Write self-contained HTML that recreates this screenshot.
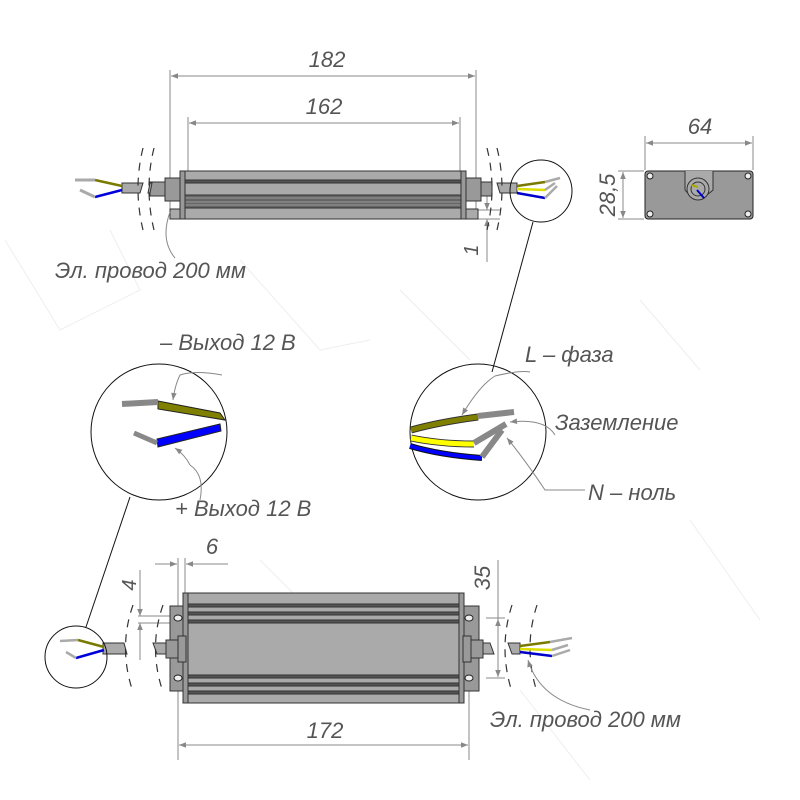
<!DOCTYPE html>
<html><head><meta charset="utf-8"><style>
html,body{margin:0;padding:0;background:#fff;}
svg{display:block;}
text{font-family:"Liberation Sans",sans-serif;font-style:italic;fill:#555;}
</style></head><body>
<svg width="800" height="800" viewBox="0 0 800 800" xmlns="http://www.w3.org/2000/svg">
<defs>
<marker id="a" viewBox="0 0 10 10" refX="10" refY="5" markerWidth="14" markerHeight="7" orient="auto-start-reverse" markerUnits="userSpaceOnUse"><path d="M0,1 L10,5 L0,9z" fill="#888"/></marker>
</defs>
<!-- watermark -->
<g stroke="#eee" stroke-width="1" fill="none">
<path d="M5,240 L60,330 L140,290 L110,230"/><path d="M240,260 L320,350 L370,340"/><path d="M400,290 L470,360"/><path d="M640,300 L700,370"/><path d="M260,560 L330,630 L400,600"/><path d="M520,690 L590,780"/><path d="M690,520 L760,620"/>
</g>
<!-- TOP VIEW -->
<g stroke="#888" stroke-width="1" fill="none">
<line x1="170" y1="70" x2="170" y2="210"/><line x1="476" y1="70" x2="476" y2="210"/>
<line x1="171" y1="76" x2="475" y2="76" marker-start="url(#a)" marker-end="url(#a)"/>
<line x1="188" y1="117" x2="188" y2="175"/><line x1="460" y1="117" x2="460" y2="175"/>
<line x1="189" y1="123" x2="459" y2="123" marker-start="url(#a)" marker-end="url(#a)"/>
<line x1="478" y1="210" x2="500" y2="210"/><line x1="478" y1="219" x2="500" y2="219"/>
<line x1="487" y1="195" x2="487" y2="210" marker-end="url(#a)"/><line x1="487" y1="262" x2="487" y2="219" marker-end="url(#a)"/>
</g>
<text x="327" y="67" font-size="22" text-anchor="middle">182</text>
<text x="324" y="114" font-size="22" text-anchor="middle">162</text>
<text x="0" y="0" font-size="20" transform="translate(478,250) rotate(-90)" text-anchor="middle">1</text>
<!-- body -->
<g stroke="#333" stroke-width="1">
<rect x="170" y="209" width="308" height="10" fill="#aaa"/>
<rect x="183" y="171" width="280" height="48" fill="#aaa"/>
<rect x="183" y="180" width="280" height="3" fill="#555"/>
<rect x="183" y="195" width="280" height="13" fill="#666"/>
<line x1="183" y1="198" x2="463" y2="198" stroke="#999"/><line x1="183" y1="202" x2="463" y2="202" stroke="#999"/><line x1="183" y1="205" x2="463" y2="205" stroke="#999"/>
<rect x="180" y="171" width="5" height="48" fill="#999"/><rect x="461" y="171" width="5" height="48" fill="#999"/>
<rect x="165" y="178" width="15" height="23" fill="#999"/><rect x="466" y="178" width="15" height="23" fill="#999"/>
<rect x="150" y="182" width="15" height="14" fill="#999"/><rect x="481" y="182" width="11" height="14" fill="#999"/>
<path d="M122,183 L143,183 L140,193 L122,193z" fill="#aaa"/><path d="M152,183 L150,183 L148,193 L150,193z" fill="#aaa"/>
<path d="M497,183 L517,183 L517,193 L500,193z" fill="#aaa"/>
</g>
<!-- break lines -->
<g stroke="#333" stroke-width="1.2" fill="none" stroke-dasharray="8,7">
<path d="M143,148 Q133,188 143,230"/><path d="M154,148 Q144,188 154,230"/>
<path d="M487,148 Q497,188 487,230"/><path d="M497,148 Q507,188 497,230"/>
</g>
<!-- left wires top -->
<g stroke-width="2.5" fill="none">
<path d="M122,186 L95,180" stroke="#7a7a00"/><path d="M95,180 L75,180" stroke="#aaa" stroke-width="3"/>
<path d="M122,190 L95,197" stroke="#0000dd"/><path d="M95,197 L80,190" stroke="#aaa" stroke-width="3"/>
</g>
<path d="M170,212 Q160,240 175,258" stroke="#888" fill="none"/>
<text x="55" y="278" font-size="22">Эл. провод 200 мм</text>
<!-- right small circle -->
<circle cx="541" cy="191" r="31" fill="none" stroke="#111"/>
<g stroke-width="2.5" fill="none">
<path d="M517,186 L545,182" stroke="#7a7a00"/><path d="M545,182 L560,178" stroke="#aaa"/>
<path d="M517,189 L545,190" stroke="#dddd00"/><path d="M545,190 L555,183" stroke="#aaa"/>
<path d="M517,193 L545,198" stroke="#0000cc"/><path d="M545,198 L557,186" stroke="#aaa"/>
</g>
<line x1="533" y1="222" x2="492" y2="372" stroke="#111"/>
<!-- END VIEW -->
<g stroke="#888" fill="none">
<line x1="645" y1="136" x2="645" y2="170"/><line x1="753" y1="136" x2="753" y2="170"/>
<line x1="646" y1="143" x2="752" y2="143" marker-start="url(#a)" marker-end="url(#a)"/>
<line x1="618" y1="171" x2="644" y2="171"/><line x1="618" y1="219" x2="644" y2="219"/>
<line x1="623" y1="172" x2="623" y2="218" marker-start="url(#a)" marker-end="url(#a)"/>
</g>
<text x="700" y="134" font-size="22" text-anchor="middle">64</text>
<text x="0" y="0" font-size="22" transform="translate(615,195) rotate(-90)" text-anchor="middle">28,5</text>
<rect x="645" y="171" width="108" height="48" rx="3" fill="#999" stroke="#222"/>
<path d="M685,171 L685,190 Q697,205 713,190 L713,171" fill="#aaa" stroke="#333"/>
<circle cx="698" cy="189" r="11" fill="#aaa" stroke="#333"/><circle cx="698" cy="189" r="7" fill="none" stroke="#333"/>
<path d="M691,185 L698,187" stroke="#aa0" stroke-width="2"/><path d="M697,190 L704,198" stroke="#00c" stroke-width="2"/>
<g fill="#eee" stroke="#222"><circle cx="650" cy="176" r="3"/><circle cx="748" cy="176" r="3"/><circle cx="650" cy="214" r="3"/><circle cx="748" cy="214" r="3"/></g>
<!-- RIGHT BIG CIRCLE -->
<circle cx="478" cy="432" r="68" fill="none" stroke="#111"/>
<g fill="none">
<path d="M411,430 Q440,422 478,417" stroke="#333" stroke-width="7"/><path d="M411,430 Q440,422 478,417" stroke="#808000" stroke-width="5"/>
<path d="M478,416 L514,412" stroke="#888" stroke-width="6"/>
<path d="M411,438 Q440,444 474,444" stroke="#333" stroke-width="7"/><path d="M411,438 Q440,444 474,444" stroke="#ffff00" stroke-width="5"/>
<path d="M474,443 L506,424" stroke="#888" stroke-width="6"/>
<path d="M410,446 Q440,455 482,458" stroke="#111" stroke-width="6"/><path d="M410,446 Q440,455 482,458" stroke="#0000ff" stroke-width="4"/>
<path d="M482,457 L502,430" stroke="#888" stroke-width="6"/>
</g>
<g stroke="#888" fill="none">
<path d="M530,372 Q520,370 495,376 Q480,385 462,415" marker-end="url(#a)"/>
<path d="M555,435 Q545,418 510,422" marker-end="url(#a)"/>
<path d="M585,490 L545,490 Q525,460 507,438" marker-end="url(#a)"/>
</g>
<text x="525" y="362" font-size="22">L – фаза</text>
<text x="555" y="430" font-size="22">Заземление</text>
<text x="588" y="500" font-size="22">N – ноль</text>
<!-- LEFT BIG CIRCLE -->
<circle cx="159" cy="432" r="68" fill="none" stroke="#111"/>
<path d="M158,401 L220,413 L225,420 L158,409z" fill="#808000" stroke="#222"/>
<path d="M122,404 L158,402" stroke="#888" stroke-width="6"/>
<path d="M157,439 L220,424 L221,431 L158,447z" fill="#0000ff" stroke="#222"/>
<path d="M134,433 L157,443" stroke="#888" stroke-width="5"/>
<g stroke="#888" fill="none">
<path d="M222,375 Q195,370 180,375 Q175,385 173,400" marker-end="url(#a)"/>
<path d="M200,500 Q205,475 190,465 Q185,455 175,448" marker-end="url(#a)"/>
</g>
<text x="160" y="350" font-size="22">– Выход 12 В</text>
<text x="175" y="516" font-size="22">+ Выход 12 В</text>
<line x1="130" y1="497" x2="86" y2="627" stroke="#111"/>
<!-- BOTTOM VIEW -->
<g stroke="#888" fill="none">
<line x1="178" y1="558" x2="178" y2="760"/><line x1="469" y1="690" x2="469" y2="760"/>
<line x1="179" y1="745" x2="468" y2="745" marker-start="url(#a)" marker-end="url(#a)"/>
<line x1="185" y1="558" x2="185" y2="600"/>
<line x1="155" y1="564" x2="177" y2="564" marker-end="url(#a)"/><line x1="228" y1="564" x2="186" y2="564" marker-end="url(#a)"/>
<line x1="138" y1="616" x2="175" y2="616"/><line x1="138" y1="623" x2="175" y2="623"/>
<line x1="140" y1="570" x2="140" y2="616" marker-end="url(#a)"/><line x1="140" y1="660" x2="140" y2="623" marker-end="url(#a)"/>
<line x1="498" y1="560" x2="498" y2="677"/>
<line x1="486" y1="618" x2="505" y2="618"/><line x1="486" y1="678" x2="505" y2="678"/>
<line x1="498" y1="619" x2="498" y2="677" marker-start="url(#a)" marker-end="url(#a)"/>
</g>
<text x="325" y="738" font-size="22" text-anchor="middle">172</text>
<text x="212" y="554" font-size="22" text-anchor="middle">6</text>
<text x="0" y="0" font-size="20" transform="translate(136,585) rotate(-90)" text-anchor="middle">4</text>
<text x="0" y="0" font-size="22" transform="translate(490,578) rotate(-90)" text-anchor="middle">35</text>
<g stroke="#333" stroke-width="1">
<rect x="170" y="606" width="16" height="85" fill="#999"/><rect x="463" y="606" width="16" height="85" fill="#999"/>
<rect x="183" y="593" width="280" height="110" fill="#aaa"/>
<rect x="186" y="604" width="274" height="3" fill="#555"/><rect x="186" y="612" width="274" height="3" fill="#555"/><rect x="186" y="620" width="274" height="3" fill="#555"/>
<rect x="186" y="675" width="274" height="3" fill="#555"/><rect x="186" y="683" width="274" height="3" fill="#555"/><rect x="186" y="691" width="274" height="3" fill="#555"/>
<rect x="183" y="593" width="5" height="110" fill="#999"/><rect x="459" y="593" width="5" height="110" fill="#999"/>
<rect x="178" y="636" width="8" height="26" fill="#999"/><rect x="463" y="636" width="8" height="26" fill="#999"/>
<rect x="166" y="640" width="12" height="18" fill="#999"/><rect x="471" y="640" width="12" height="18" fill="#999"/>
<path d="M153,643 L166,643 L166,654 L157,654z" fill="#aaa"/>
<path d="M483,643 L490,643 L494,654 L483,654z" fill="#aaa"/>
<path d="M508,643 L520,643 L520,654 L512,654z" fill="#aaa"/>
<path d="M103,643 L124,643 L127,654 L103,654z" fill="#aaa"/>
</g>
<g fill="#eee" stroke="#222"><ellipse cx="178" cy="618" rx="4" ry="3"/><ellipse cx="178" cy="678" rx="4" ry="3"/><ellipse cx="469" cy="618" rx="4" ry="3"/><ellipse cx="469" cy="678" rx="4" ry="3"/></g>
<g stroke="#333" stroke-width="1.2" fill="none" stroke-dasharray="8,7">
<path d="M133,605 Q118,648 133,692"/><path d="M163,605 Q148,648 163,692"/>
<path d="M512,605 Q498,648 512,692"/><path d="M537,605 Q523,648 537,692"/>
</g>
<g stroke-width="2.5" fill="none">
<path d="M520,646 L550,642" stroke="#7a7a00"/><path d="M550,642 L572,638" stroke="#aaa"/>
<path d="M520,649 L552,650" stroke="#dddd00"/><path d="M552,650 L568,645" stroke="#aaa"/>
<path d="M520,652 L552,656" stroke="#0000cc"/><path d="M552,656 L570,650" stroke="#aaa"/>
</g>
<path d="M590,710 Q540,700 528,660" stroke="#888" fill="none" marker-end="url(#a)"/>
<text x="490" y="727" font-size="22">Эл. провод 200 мм</text>
<!-- left small circle -->
<circle cx="76" cy="657" r="31" fill="none" stroke="#111"/>
<g stroke-width="2.5" fill="none">
<path d="M104,647 L78,640" stroke="#7a7a00"/><path d="M78,640 L60,641" stroke="#aaa"/>
<path d="M104,650 L76,658" stroke="#0000dd"/><path d="M76,658 L66,652" stroke="#aaa"/>
</g>
</svg>
</body></html>
